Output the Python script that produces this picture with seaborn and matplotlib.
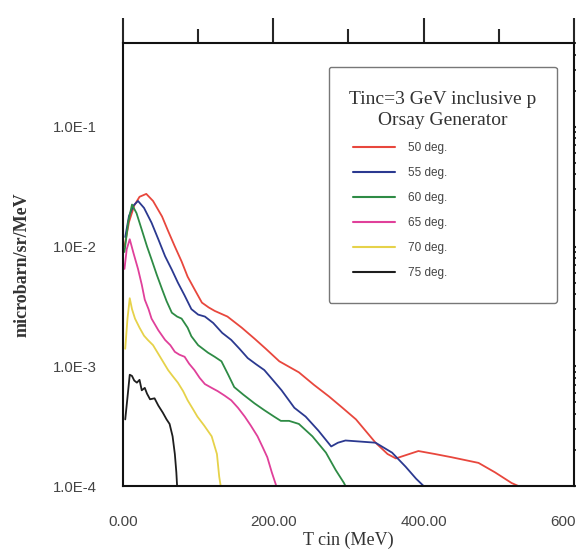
import matplotlib
matplotlib.use('Agg')
import matplotlib.pyplot as plt
import matplotlib.ticker as mticker
import numpy as np
import pandas as pd
import seaborn as sns

# kinetic energy (MeV) and cross section (microbarn/sr/MeV) per angle
t_50 = [2, 8, 15, 22, 31, 40, 52, 60, 69, 78, 86, 96, 105, 114, 122, 139, 158, 175, 190, 208,
        234, 254, 274, 292, 310, 336, 352, 363, 375, 393, 415, 437, 473, 495, 517, 526]
s_50 = [0.010, 0.016, 0.022, 0.026, 0.0275, 0.024, 0.0178, 0.0135, 0.010, 0.0075, 0.0056, 0.0043,
        0.0034, 0.0031, 0.0029, 0.0026, 0.0021, 0.0017, 0.0014, 0.0011, 8.9e-4, 7.0e-4, 5.6e-4,
        4.5e-4, 3.6e-4, 2.3e-4, 1.85e-4, 1.7e-4, 1.8e-4, 1.96e-4, 1.85e-4, 1.74e-4, 1.56e-4,
        1.3e-4, 1.06e-4, 1.0e-4]

t_55 = [3, 8, 14, 20, 28, 38, 47, 56, 65, 73, 82, 91, 100, 109, 120, 132, 144, 155, 166, 177, 188,
        200, 211, 228, 243, 260, 277, 286, 296, 316, 336, 358, 376, 390, 400]
s_55 = [0.012, 0.018, 0.022, 0.024, 0.021, 0.0158, 0.0115, 0.0083, 0.0064, 0.005, 0.0039, 0.003,
        0.0027, 0.0026, 0.0023, 0.0019, 0.00166, 0.0014, 0.00117, 0.00104, 9.3e-4, 7.6e-4, 6.3e-4,
        4.5e-4, 3.8e-4, 2.9e-4, 2.14e-4, 2.3e-4, 2.4e-4, 2.35e-4, 2.3e-4, 1.9e-4, 1.45e-4, 1.15e-4,
        1.0e-4]

t_60 = [2, 7, 12, 18, 25, 32, 38, 45, 52, 58, 65, 72, 78, 86, 91, 100, 113, 122, 131, 140, 148,
        160, 175, 188, 201, 210, 221, 234, 252, 270, 283, 294, 296]
s_60 = [0.009, 0.016, 0.0224, 0.019, 0.0138, 0.010, 0.0078, 0.0058, 0.0044, 0.0035, 0.0028, 0.0026,
        0.0025, 0.0021, 0.00178, 0.0015, 0.0013, 0.0012, 0.0011, 8.5e-4, 6.7e-4, 5.8e-4, 4.9e-4,
        4.3e-4, 3.8e-4, 3.5e-4, 3.5e-4, 3.3e-4, 2.6e-4, 1.9e-4, 1.36e-4, 1.06e-4, 1.0e-4]

t_65 = [2, 5, 9, 14, 20, 25, 29, 34, 38, 47, 56, 63, 69, 75, 82, 88, 95, 102, 109, 118, 126, 135,
        144, 153, 162, 170, 179, 186, 192, 198, 204]
s_65 = [0.0065, 0.0095, 0.0115, 0.0088, 0.0065, 0.0048, 0.0036, 0.003, 0.0025, 0.002, 0.00166,
        0.0015, 0.00132, 0.00125, 0.0012, 0.00105, 9.3e-4, 8.0e-4, 7.1e-4, 6.6e-4, 6.2e-4, 5.7e-4,
        5.2e-4, 4.5e-4, 3.8e-4, 3.2e-4, 2.6e-4, 2.1e-4, 1.74e-4, 1.3e-4, 1.0e-4]

t_70 = [3, 6, 9, 12, 16, 22, 28, 33, 40, 46, 53, 60, 66, 73, 80, 86, 93, 99, 108, 118, 125, 128, 130]
s_70 = [0.0014, 0.0025, 0.0037, 0.003, 0.0025, 0.0021, 0.0018, 0.00166, 0.0015, 0.0013, 0.0011,
        9.3e-4, 8.3e-4, 7.3e-4, 6.2e-4, 5.2e-4, 4.4e-4, 3.8e-4, 3.2e-4, 2.6e-4, 1.85e-4, 1.2e-4, 1.0e-4]

t_75 = [3, 6, 9, 12, 15, 18.5, 22, 25, 29, 32, 36, 42, 47, 53, 58, 62, 66, 69, 71, 72]
s_75 = [3.6e-4, 5.5e-4, 8.5e-4, 8.3e-4, 7.6e-4, 7.3e-4, 7.7e-4, 6.3e-4, 6.6e-4, 5.9e-4, 5.3e-4,
        5.4e-4, 4.7e-4, 4.1e-4, 3.6e-4, 3.3e-4, 2.6e-4, 1.85e-4, 1.3e-4, 1.0e-4]

angle_labels = ['50 deg.', '55 deg.', '60 deg.', '65 deg.', '70 deg.', '75 deg.']
colors = ['#e8473d', '#2b3990', '#2e8b45', '#e0409a', '#e6d24a', '#1e1e1e']

series = [(t_50, s_50), (t_55, s_55), (t_60, s_60), (t_65, s_65), (t_70, s_70), (t_75, s_75)]
frames = []
for lab, (t, s) in zip(angle_labels, series):
    frames.append(pd.DataFrame({'T': t, 'sigma': s, 'angle': lab}))
df = pd.concat(frames, ignore_index=True)

sns.set_style('white')
plt.rcParams['font.family'] = ['Liberation Sans', 'DejaVu Sans']

fig = plt.figure(figsize=(5.76, 5.54), dpi=100)
ax = fig.add_axes([0.2135, 0.1227, 0.7830, 0.7996])

sns.lineplot(ax=ax, data=df, x='T', y='sigma', hue='angle', hue_order=angle_labels,
             palette=colors, sort=False, estimator=None, linewidth=1.3, legend=True)

ax.set_yscale('log')
ax.set_xlim(0, 600)
ax.set_ylim(1e-4, 0.5)

ax.xaxis.set_major_locator(mticker.MultipleLocator(200))
ax.xaxis.set_minor_locator(mticker.MultipleLocator(100))
ax.xaxis.set_major_formatter(mticker.FuncFormatter(lambda v, p: f'{v:.2f}'))
ax.yaxis.set_major_locator(mticker.LogLocator(base=10, numticks=10))
ax.yaxis.set_minor_locator(mticker.LogLocator(base=10, subs=np.arange(2, 10), numticks=20))
ax.yaxis.set_minor_formatter(mticker.NullFormatter())
ax.yaxis.set_major_formatter(mticker.FuncFormatter(lambda v, p: f'1.0E{int(round(np.log10(v)))}'))

for sp in ax.spines.values():
    sp.set_linewidth(1.5)
    sp.set_color('#111111')

ax.tick_params(axis='x', which='major', direction='out', length=18, width=1.5, top=True,
               labelsize=11, labelcolor='#444444', pad=3)
ax.tick_params(axis='x', which='minor', direction='out', length=10, width=1.5, top=True)
ax.tick_params(axis='y', which='major', direction='out', length=11, width=1.5, right=True,
               labelsize=10.7, labelcolor='#444444', pad=8)
ax.tick_params(axis='y', which='minor', direction='out', length=7, width=1.3, right=True)

ax.set_xlabel('T cin (MeV)', family='Liberation Serif', fontsize=13, color='#333333')
ax.xaxis.set_label_coords(0.5, -0.102)
ax.set_ylabel('microbarn/sr/MeV', family='Liberation Serif', fontsize=13, color='#333333',
              fontweight='bold')
ax.yaxis.set_label_coords(-0.205, 0.5)

old = ax.get_legend()
handles = old.legend_handles
old.remove()
leg = ax.legend(handles, angle_labels,
                title='Tinc=3 GeV inclusive p\nOrsay Generator',
                loc='upper left', bbox_to_anchor=(0.457, 0.415, 0.505, 0.531), mode='expand',
                borderaxespad=0, fontsize=8.5, handlelength=3.6, handletextpad=1.1,
                labelspacing=1.1, borderpad=2.0, fancybox=True, framealpha=1,
                edgecolor='#777777')
title = leg.get_title()
title.set_fontfamily('Liberation Serif')
title.set_fontsize(14)
title.set_color('#333333')
title.set_multialignment('center')
title.set_linespacing(1.35)
leg.get_frame().set_linewidth(1.0)
for txt in leg.get_texts():
    txt.set_color('#444444')
for h in leg.legend_handles:
    h.set_linewidth(1.5)

fig.savefig('out.png', dpi=100)
